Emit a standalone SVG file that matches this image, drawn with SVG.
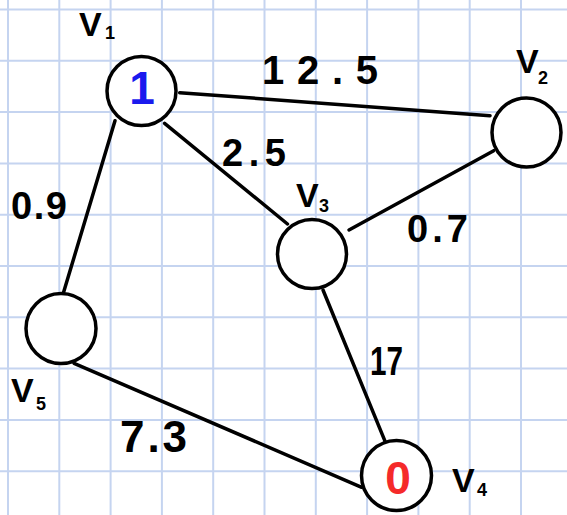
<svg xmlns="http://www.w3.org/2000/svg" width="567" height="515" viewBox="0 0 567 515">
<defs>
<style>
.grid line{stroke:#c5d4f0;stroke-width:2}
.node circle{fill:#fff;stroke:#000;stroke-width:3.5}
.edges line{stroke:#000;stroke-width:3.5;stroke-linecap:round}
text{font-family:"Liberation Sans",Arial,sans-serif;fill:#000}
.lbl{font-size:34px;font-weight:bold}
.sub{font-size:18px;font-weight:bold}
.w{font-size:38px;font-weight:bold}
.val{font-size:46px;font-weight:bold;text-anchor:middle}
</style>
</defs>
<rect width="567" height="515" fill="#fff"/>
<g class="grid">
<line x1="8" y1="0" x2="8" y2="515"/>
<line x1="59.3" y1="0" x2="59.3" y2="515"/>
<line x1="110.6" y1="0" x2="110.6" y2="515"/>
<line x1="161.9" y1="0" x2="161.9" y2="515"/>
<line x1="213.2" y1="0" x2="213.2" y2="515"/>
<line x1="264.5" y1="0" x2="264.5" y2="515"/>
<line x1="315.8" y1="0" x2="315.8" y2="515"/>
<line x1="367.1" y1="0" x2="367.1" y2="515"/>
<line x1="418.4" y1="0" x2="418.4" y2="515"/>
<line x1="469.7" y1="0" x2="469.7" y2="515"/>
<line x1="521" y1="0" x2="521" y2="515"/>
<line x1="0" y1="9.5" x2="567" y2="9.5"/>
<line x1="0" y1="60.8" x2="567" y2="60.8"/>
<line x1="0" y1="112.1" x2="567" y2="112.1"/>
<line x1="0" y1="163.4" x2="567" y2="163.4"/>
<line x1="0" y1="214.7" x2="567" y2="214.7"/>
<line x1="0" y1="266" x2="567" y2="266"/>
<line x1="0" y1="317.3" x2="567" y2="317.3"/>
<line x1="0" y1="368.6" x2="567" y2="368.6"/>
<line x1="0" y1="419.9" x2="567" y2="419.9"/>
<line x1="0" y1="471.2" x2="567" y2="471.2"/>
</g>
<g class="edges">
<line x1="179.7" y1="92.7" x2="490" y2="115.7"/>
<line x1="164.6" y1="123.3" x2="287.5" y2="224"/>
<line x1="115" y1="120.7" x2="63.3" y2="293.3"/>
<line x1="493.7" y1="150.7" x2="349" y2="230"/>
<line x1="323" y1="290" x2="385.2" y2="441.7"/>
<line x1="74.1" y1="363.3" x2="361.7" y2="487.3"/>
<text class="w" x="262" y="84" textLength="116" lengthAdjust="spacing" style="font-size:40px">12.5</text>
<text class="w" x="222" y="166" textLength="64" lengthAdjust="spacing">2.5</text>
<text class="w" x="11" y="219" textLength="56" lengthAdjust="spacing">0.9</text>
<text class="w" x="407" y="242" textLength="61" lengthAdjust="spacing">0.7</text>
<text class="w" x="370" y="375" textLength="33" lengthAdjust="spacingAndGlyphs" style="font-size:40px">17</text>
<text class="w" x="120" y="452" textLength="67" lengthAdjust="spacing" style="font-size:44px">7.3</text>
</g>
<g id="v1" class="node">
<circle cx="141.5" cy="91" r="34.5"/>
<text class="val" x="142" y="104" style="fill:#1a1aee">1</text>
<text class="lbl" x="79" y="36">V<tspan class="sub" x="105" y="39">1</tspan></text>
</g>
<g id="v2" class="node">
<circle cx="526.5" cy="132.5" r="34.5"/>
<text class="lbl" x="516" y="73">V<tspan class="sub" x="538" y="84">2</tspan></text>
</g>
<g id="v3" class="node">
<circle cx="312" cy="254" r="34.5"/>
<text class="lbl" x="296" y="207">V<tspan class="sub" x="319" y="212">3</tspan></text>
</g>
<g id="v5" class="node">
<circle cx="61" cy="328.5" r="35"/>
<text class="lbl" x="11" y="402">V<tspan class="sub" x="36" y="410">5</tspan></text>
</g>
<g id="v4" class="node">
<circle cx="396.5" cy="475.5" r="35"/>
<text class="val" x="398" y="494" style="fill:#f52a2a">0</text>
<text class="lbl" x="452" y="492">V<tspan class="sub" x="477" y="496">4</tspan></text>
</g>
</svg>
